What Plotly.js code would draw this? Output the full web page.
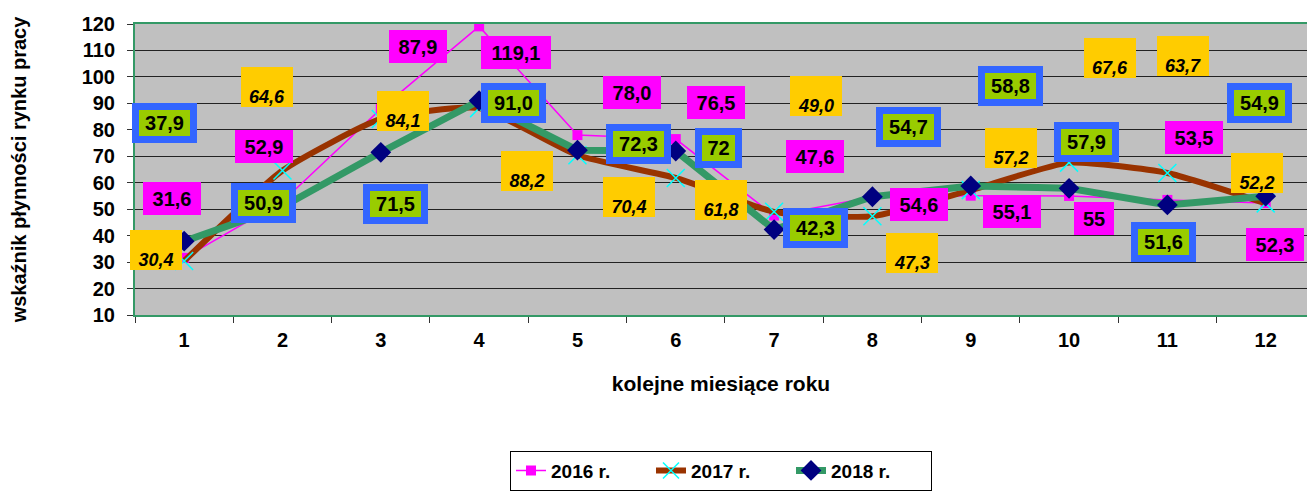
<!DOCTYPE html>
<html>
<head>
<meta charset="utf-8">
<script src="https://cdn.plot.ly/plotly-3.0.1.min.js"></script>
<style>
  html, body { margin: 0; padding: 0; background: #fff; }
  #chart { width: 1307px; height: 491px; }
</style>
</head>
<body>
<div id="chart"></div>
<script>
(() => {
  // months
  const months = ["1", "2", "3", "4", "5", "6", "7", "8", "9", "10", "11", "12"];

  const v2016 = [31.6, 52.9, 87.9, 119.1, 78.0, 76.5, 47.6, 54.6, 55.1, 55, 53.5, 52.3];
  const v2017 = [30.4, 64.6, 84.1, 88.2, 70.4, 61.8, 49.0, 47.3, 57.2, 67.6, 63.7, 52.2];
  const v2018 = [37.9, 50.9, 71.5, 91.0, 72.3, 72, 42.3, 54.7, 58.8, 57.9, 51.6, 54.9];

  const lab2016 = ["31,6", "52,9", "87,9", "119,1", "78,0", "76,5", "47,6", "54,6", "55,1", "55", "53,5", "52,3"];
  const lab2017 = ["30,4", "64,6", "84,1", "88,2", "70,4", "61,8", "49,0", "47,3", "57,2", "67,6", "63,7", "52,2"];
  const lab2018 = ["37,9", "50,9", "71,5", "91,0", "72,3", "72", "42,3", "54,7", "58,8", "57,9", "51,6", "54,9"];

  // label offsets from the point, in pixels [dx, dy(down)]
  const off2016 = [[-12, -59], [-18, -55], [37, -62], [37, 26], [55, -43], [40, -37],
                   [41, -59], [47, 7], [41, 16], [25, 23], [27, -62], [9, 41]];
  const off2017 = [[-28, -11], [-15, -84], [22, -8], [48, 63], [52, 42], [45, 22],
                   [42, -116], [40, 37], [40, -42], [41, -105], [16, -117], [-9, -30]];
  const off2018 = [[-20, -118], [-19, -4], [15, 52], [34, 2], [61, -6], [43, -3],
                   [41, -2], [36, -70], [40, -100], [17, -46], [-4, 37], [-6, -93]];

  const font = "Liberation Sans, Arial, sans-serif";

  const traces = [
    {
      x: months, y: v2016, name: "2016 r.", type: "scatter", mode: "lines+markers",
      line: { color: "#FF00FF", width: 1.5 },
      marker: { symbol: "square", size: 10, color: "#FF00FF" },
    },
    {
      x: months, y: v2017, name: "2017 r.", type: "scatter", mode: "lines+markers",
      line: { color: "#993300", width: 6, shape: "spline", smoothing: 0.5 },
      marker: { symbol: "x-thin", size: 18, color: "#00FFFF", line: { color: "#00FFFF", width: 1.5 } },
    },
    {
      x: months, y: v2018, name: "2018 r.", type: "scatter", mode: "lines+markers",
      line: { color: "#339966", width: 7 },
      marker: { symbol: "diamond", size: 16, color: "#000080" },
    },
  ];

  const annotations = [];
  const magW = { 2: 40, 4: 58, 5: 70 };
  months.forEach((m, i) => {
    annotations.push({
      x: i, y: v2016[i], text: lab2016[i], showarrow: false,
      xshift: off2016[i][0], yshift: -off2016[i][1],
      bgcolor: "#FF00FF", borderwidth: 0, borderpad: 0,
      width: magW[lab2016[i].length], height: 33,
      font: { family: font, size: 20, weight: "bold", color: "#000" },
    });
    annotations.push({
      x: i, y: v2017[i], text: lab2017[i], showarrow: false,
      xshift: off2017[i][0], yshift: -off2017[i][1],
      bgcolor: "#FFCC00", borderwidth: 0, borderpad: 0,
      width: 52, height: 40, valign: "bottom",
      font: { family: font, size: 18, weight: "bold", style: "italic", color: "#000" },
    });
    annotations.push({
      x: i, y: v2018[i], text: lab2018[i], showarrow: false,
      xshift: off2018[i][0], yshift: -off2018[i][1],
      bgcolor: "#99CC00", bordercolor: "#3366FF", borderwidth: 7, borderpad: 0,
      width: lab2018[i].length === 2 ? 33 : 51, height: 26,
      font: { family: font, size: 20, weight: "bold", color: "#000" },
    });
  });

  Plotly.newPlot("chart", traces, {
    width: 1307,
    height: 491,
    margin: { l: 135, r: 0, t: 24, b: 176 },
    paper_bgcolor: "#FFFFFF",
    plot_bgcolor: "#C0C0C0",
    font: { family: font, color: "#000" },
    showlegend: true,
    legend: {
      orientation: "h",
      x: 0.5, xanchor: "center",
      y: -0.466, yanchor: "top",
      bordercolor: "#000", borderwidth: 1,
      entrywidth: 95,
      font: { family: font, size: 19, weight: "bold" },
    },
    xaxis: {
      type: "category",
      range: [-0.5, 11.42],
      showgrid: false,
      zeroline: false,
      showline: true, mirror: true,
      linecolor: "#339966", linewidth: 2,
      ticks: "outside", tickson: "boundaries", ticklen: 6, tickcolor: "#333",
      ticklabelstandoff: 6,
      tickfont: { family: font, size: 20, weight: "bold" },
      title: { text: "kolejne miesiące roku", standoff: 26,
               font: { family: font, size: 21, weight: "bold" } },
    },
    yaxis: {
      range: [10, 120],
      dtick: 10,
      showgrid: true, gridcolor: "#222", gridwidth: 1,
      zeroline: false,
      showline: true, linecolor: "#339966", linewidth: 2,
      ticks: "outside", ticklen: 6, tickcolor: "#333",
      ticklabelstandoff: 8,
      tickfont: { family: font, size: 20, weight: "bold" },
      title: { text: "wskaźnik płynności rynku pracy", standoff: 50,
               font: { family: font, size: 20, weight: "bold" } },
    },
    annotations: annotations,
  }, { displayModeBar: false });
})();
</script>
</body>
</html>
